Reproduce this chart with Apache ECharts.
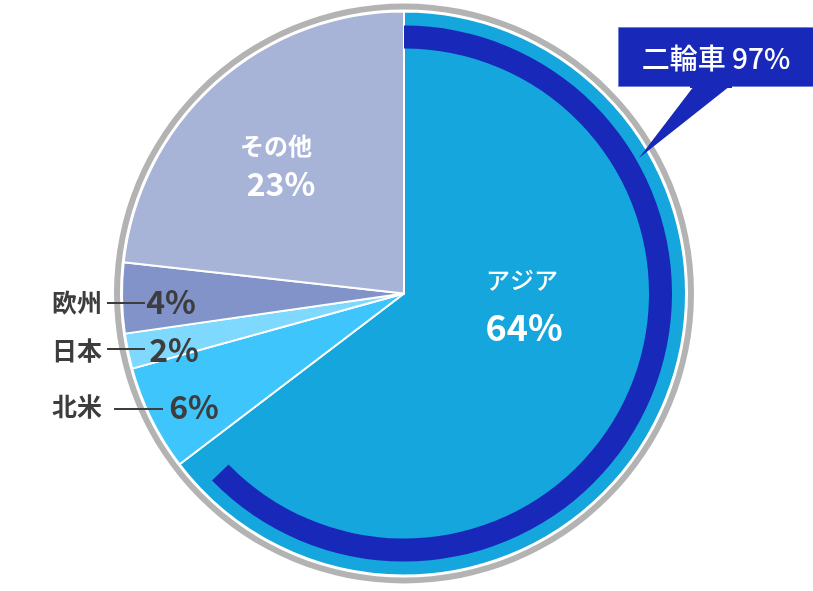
<!DOCTYPE html>
<html><head><meta charset="utf-8">
<script src="https://cdn.jsdelivr.net/npm/echarts@6/dist/echarts.min.js"></script>
<style>html,body{margin:0;padding:0;background:#fff}#c{width:813px;height:591px}</style>
</head><body><div id="c"></div>
<script>
const categories = ['アジア', '北米', '日本', '欧州', 'その他'];
const shares = [64, 6, 2, 4, 23];
const sliceColors = ['#14a6dc', '#3ec6fc', '#7fd8fd', '#8293c9', '#a7b3d7'];
const twoWheelShare = 97; // % of アジア
const twoWheelLabel = '二輪車';

const total = shares.reduce((a, b) => a + b, 0);
const arcValue = shares[0] * twoWheelShare / 100;

const FONT = '"Noto Sans CJK JP", "Noto Sans", sans-serif';
const chart = echarts.init(document.getElementById('c'), null, {renderer: 'canvas'});
const center = [404, 293.5];

function txt(text, x, y, size, color, weight) {
  return {type: 'text', x: x, y: y, z: 100,
    style: {text: text, fill: color, font: (weight || 'bold') + ' ' + size + 'px ' + FONT,
      textAlign: 'center', textVerticalAlign: 'middle'}};
}
function line(x1, y1, x2, y2) {
  return {type: 'line', z: 100, shape: {x1: x1, y1: y1, x2: x2, y2: y2},
    style: {stroke: '#3d3d3d', lineWidth: 2}};
}

chart.setOption({
  animation: false,
  series: [
    {
      type: 'pie', silent: true, center: center, radius: [284, 290],
      label: {show: false}, labelLine: {show: false},
      data: [{value: 1, itemStyle: {color: '#b3b3b3'}}]
    },
    {
      type: 'pie', silent: true, center: center, radius: [0, 282],
      startAngle: 90, clockwise: true,
      label: {show: false}, labelLine: {show: false},
      itemStyle: {borderColor: '#ffffff', borderWidth: 2},
      data: categories.map((c, i) => ({name: c, value: shares[i], itemStyle: {color: sliceColors[i]}}))
    },
    {
      type: 'pie', silent: true, center: center, radius: [245, 268],
      startAngle: 90, clockwise: true, z: 5,
      label: {show: false}, labelLine: {show: false},
      data: [
        {value: arcValue, itemStyle: {color: '#1828b9'}},
        {value: total - arcValue, itemStyle: {color: 'rgba(0,0,0,0)'}}
      ]
    }
  ],
  graphic: [
    txt(categories[0], 522, 280, 24, '#ffffff', '500'),
    txt(shares[0] + '%', 524, 327, 36, '#ffffff', 'bold'),
    txt(categories[4], 276, 146, 24, '#ffffff', 'bold'),
    txt(shares[4] + '%', 281, 184, 32, '#ffffff', 'bold'),
    txt(categories[3], 77, 302, 25, '#3d3d3d', 'bold'),
    line(107, 303, 145, 303),
    txt(shares[3] + '%', 171, 302, 32, '#3d3d3d', 'bold'),
    txt(categories[2], 77, 350, 25, '#3d3d3d', 'bold'),
    line(107, 349, 145, 349),
    txt(shares[2] + '%', 174, 350, 32, '#3d3d3d', 'bold'),
    txt(categories[1], 77, 406, 25, '#3d3d3d', 'bold'),
    line(114, 409, 163, 409),
    txt(shares[1] + '%', 194, 407, 32, '#3d3d3d', 'bold'),
    {type: 'polygon', z: 90, shape: {points: [[694, 86], [730, 86], [639, 158]]},
      style: {fill: '#1828b9'}},
    {type: 'rect', z: 91, shape: {x: 618.5, y: 27.5, width: 200, height: 59},
      style: {fill: '#1828b9', stroke: '#7080d4', lineWidth: 1}},
    {type: 'rect', z: 92, shape: {x: 690, y: 84, width: 42, height: 4},
      style: {fill: '#1828b9'}},
    txt(twoWheelLabel + ' ' + twoWheelShare + '%', 716, 58, 28, '#ffffff', '500')
  ]
});
</script>
</body></html>
